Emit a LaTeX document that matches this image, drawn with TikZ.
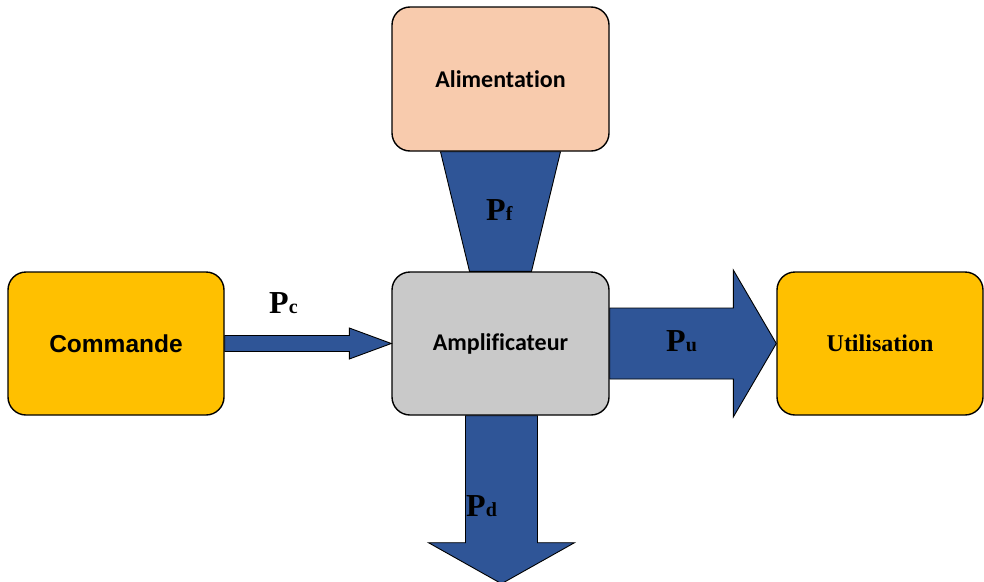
\documentclass[tikz,border=0pt]{standalone}
\usepackage{fontspec}
\setmainfont{Liberation Serif}
\newfontfamily\arialfont{Liberation Sans}
\newfontfamily\calibrifont[Ligatures=NoCommon]{Carlito}
\usepackage{tikz}
\usetikzlibrary{calc}

\definecolor{peach}{HTML}{F8CBAD}
\definecolor{gold}{HTML}{FFC000}
\definecolor{ampgray}{HTML}{C9C9C9}
\definecolor{flowblue}{HTML}{2F5597}

\tikzset{
	block/.style={draw=black, line width=1.4pt, rounded corners=18pt, inner sep=0pt, align=center},
	flow/.style={draw=black, line width=0.9pt, fill=flowblue, line join=miter},
	plabel/.style={anchor=base west, inner sep=0pt}
}
\newcommand{\pow}[1]{{\fontsize{32}{32}\selectfont\bfseries P}{\fontsize{20}{20}\selectfont\bfseries #1}}

\begin{document}
\begin{tikzpicture}[x=1pt, y=-1pt]
			\useasboundingbox (0, 0) rectangle (984, 581);
			
			\node[block, fill=peach, minimum width=217pt, minimum height=144pt] (alim) at (500.5, 79) {\calibrifont\fontsize{24}{24}\selectfont\bfseries Alimentation};
			\node[block, fill=ampgray, minimum width=217pt, minimum height=143pt] (ampli) at (500.5, 343.5) {\calibrifont\fontsize{24}{24}\selectfont\bfseries Amplificateur};
			\node[block, fill=gold, minimum width=216pt, minimum height=143pt] (cmd) at (116, 343.5) {\arialfont\fontsize{24.5}{24.5}\selectfont\bfseries Commande};
			\node[block, fill=gold, minimum width=206pt, minimum height=143pt] (util) at (880, 343.5) {\fontsize{24}{24}\selectfont\bfseries Utilisation};
			
			% Pf
			\draw[flow] ($(alim.south)+(-60, 0)$) -- ($(alim.south)+(60, 0)$) -- ($(ampli.north)+(31, 0)$) -- ($(ampli.north)+(-31, 0)$) -- cycle;
			% Pc
			\draw[flow] ($(cmd.east)+(0, -8)$) -- ($(ampli.west)+(-42, -8)$) -- ($(ampli.west)+(-42, -15.5)$) -- (ampli.west)
				-- ($(ampli.west)+(-42, 15.5)$) -- ($(ampli.west)+(-42, 8)$) -- ($(cmd.east)+(0, 8)$) -- cycle;
			% Pu
			\draw[flow] ($(ampli.east)+(0, -35.5)$) -- ($(util.west)+(-43, -35.5)$) -- ($(util.west)+(-43, -73.5)$) -- (util.west)
				-- ($(util.west)+(-43, 73.5)$) -- ($(util.west)+(-43, 35.5)$) -- ($(ampli.east)+(0, 35.5)$) -- cycle;
			% Pd
			\coordinate (dtip) at ($(ampli.south)+(1, 168)$);
			\draw[flow] ($(ampli.south)+(-35, 0)$) -- ($(ampli.south)+(37, 0)$) -- ($(ampli.south)+(37, 127)$) -- ($(ampli.south)+(74, 127)$)
				-- (dtip) -- ($(ampli.south)+(-72, 127)$) -- ($(ampli.south)+(-35, 127)$) -- cycle;
			
			\node[plabel] (pf) at (486, 220) {\pow{f}};
			\node[plabel] (pc) at (269, 313) {\pow{c}};
			\node[plabel] (pu) at (666, 351) {\pow{u}};
			\node[plabel] (pd) at (466, 516) {\pow{d}};
			
		\end{tikzpicture}
\end{document}
